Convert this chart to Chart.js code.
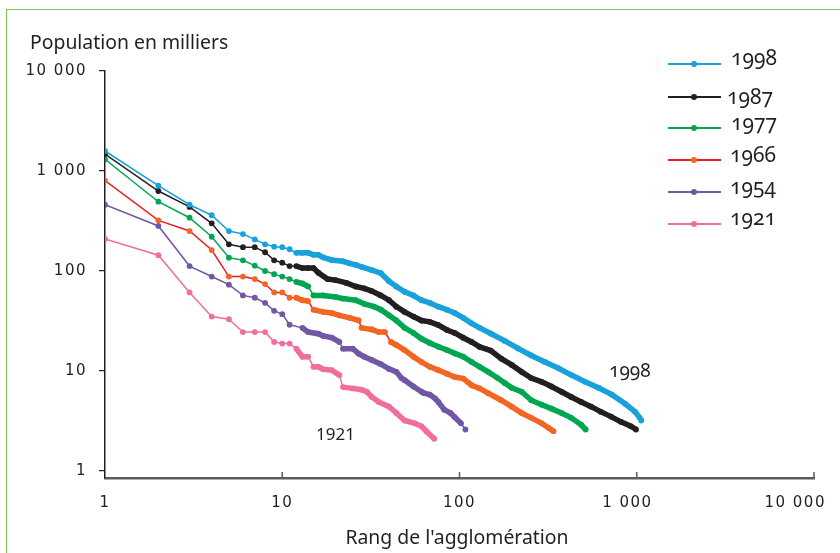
<!DOCTYPE html>
<html lang="fr">
<head>
<meta charset="utf-8">
<title>Population des agglomérations selon leur rang</title>
<script src="https://cdn.jsdelivr.net/npm/chart.js@4.4.1/dist/chart.umd.min.js"></script>
<style>
  html, body { margin: 0; padding: 0; background: #fff; }
  #wrap {
    position: relative; width: 840px; height: 553px; overflow: hidden;
    font-family: 'Noto Sans', sans-serif; color: #231f20;
  }
  #frame {
    position: absolute; left: 6px; top: 9px; right: -20px; bottom: -20px;
    border-top: 1.5px solid #7dc452; border-left: 1.5px solid #7dc452;
  }
  canvas { position: absolute; left: 0; top: 0; }
  .txt { position: absolute; white-space: nowrap; line-height: 1; }
  .old { font-variant-numeric: oldstyle-nums; }
  .leg-line { position: absolute; height: 2px; }
  .leg-dot  { position: absolute; width: 6px; height: 6px; border-radius: 50%; }
</style>
</head>
<body>
<div id="wrap">
  <div id="frame"></div>
  <canvas id="chart" width="840" height="553"></canvas>
  <div class="txt" style="left:30px; top:32px; font-size:19.4px;">Population en milliers</div>
  <div class="txt" style="left:457px; top:526.5px; font-size:19.4px; transform:translateX(-50%);">Rang de l'agglomération</div>
  <div class="txt old" style="left:609px; top:361px; font-size:19px;">1998</div>
  <div class="txt" style="left:316px; top:425px; font-size:17px;">1921</div>
  <div id="legend"></div>
</div>

<script>
// ── DATA ──────────────────────────────────────────────────────────────
// rank of the agglomeration (x) and population in thousands (y), per census year
const years = ['1998', '1987', '1977', '1966', '1954', '1921'];

const rank1998 = [1,2,3,4,5,6,7,8,9,10,11,12,13,14,15,16,17,19,22,24,26,28,32,36,40,44,49,55,61,68,76,85,94,105,117,130,150,180,214,254,303,360,428,511,608,724,860,980,1040,1060];
const pop1998  = [1585,713,460,361,251,234,207,185,175,173,165,152,152,152,145,145,137,129,125,119,115,110,102,95,79,70,62,57,51,48,44,41,38,34,30,27,23.7,20,16.8,14.3,12.3,10.7,9.1,7.8,6.8,5.8,4.7,3.9,3.4,3.2];

const rank1987 = [1,2,3,4,5,6,7,8,9,10,11,12,13,14,15,16,18,20,23,26,29,32,36,40,44,49,55,61,68,76,85,94,105,117,130,150,172,197,224,254,291,330,376,427,486,553,629,716,814,927,990];
const pop1987  = [1479,631,437,300,185,173,173,154,128,121,112,112,107,107,107,96,83,81,76,70,67,63,57,51,44,39,35,32,31,28.8,25.7,24,21.5,19.5,17.4,16,13.3,11.5,9.8,8.5,7.8,7.0,6.2,5.5,4.9,4.4,3.9,3.5,3.1,2.8,2.6];

const rank1977 = [1,2,3,4,5,6,7,8,9,10,11,12,13,14,15,17,20,22,26,29,33,36,40,44,49,55,61,68,76,85,94,105,117,130,145,164,180,197,224,254,291,330,376,427,486,515];
const pop1977  = [1309,493,341,220,136,128,113,100,93,88,83,78,75,70,57,57,55,53,51,47,44,41,36,32,27,24,21,19.1,17.5,16.2,15,13.9,12.3,11,9.8,8.5,7.6,6.8,6.2,5.1,4.6,4.2,3.8,3.4,2.9,2.6];

const rank1966 = [1,2,3,4,5,6,7,8,9,10,11,12,13,14,15,17,19,21,24,27,28,32,35,38,41,44,49,55,61,68,76,85,94,105,117,130,145,172,197,224,254,291,318,339];
const pop1966  = [800,321,251,162,88,88,83,74,61,61,54,54,51,50,41,39,38,36,34,32,27,26,24.5,24.5,19.5,18.2,16.2,13.9,12.3,11,10.2,9.4,8.7,8.4,7.2,6.7,6.0,5.1,4.4,3.8,3.4,3.0,2.7,2.5];

const rank1954 = [1,2,3,4,5,6,7,8,9,10,11,13,14,16,17,19,21,22,25,27,29,32,36,40,44,47,49,55,61,63,68,73,76,82,89,94,102,108];
const pop1954  = [460,282,112,88,73,57,54,48,40,37,29,27,24.5,23.6,22.4,21.6,19.5,16.7,16.7,14.9,13.9,12.9,11.7,10.5,9.8,8.5,8.1,7.0,6.2,6.0,5.8,5.3,4.9,4.1,3.8,3.45,3.0,2.6];

const rank1921 = [1,2,3,4,5,6,7,8,9,10,11,12,13,14,15,16,17,19,21,22,25,28,30,32,35,40,44,49,56,61,65,72];
const pop1921  = [209,144,61,35,33,24.5,24.5,24.5,19.5,18.8,18.8,16.7,13.9,13.9,11,11,10.4,10.2,9.1,6.9,6.7,6.5,6.2,5.5,4.9,4.4,3.8,3.2,3.0,2.8,2.5,2.1];

const xTicks = [1, 10, 100, 1000, 10000];
const yTicks = [1, 10, 100, 1000, 10000];

// ── STYLE ─────────────────────────────────────────────────────────────
const ranks     = [rank1998, rank1987, rank1977, rank1966, rank1954, rank1921];
const pops      = [pop1998, pop1987, pop1977, pop1966, pop1954, pop1921];
const lineColor = ['#19a1dc', '#231f20', '#00a651', '#ed1c24', '#7157a5', '#f06e9c'];
const dotColor  = ['#19a1dc', '#231f20', '#00a651', '#f26522', '#7157a5', '#f06e9c'];

// legend placement (pixels) – line y and text baseline for each year
const legLineY  = [64, 97, 128, 160, 192, 224];
const legBase   = [66, 105, 131, 163, 195, 226];
const legTextX  = [731, 727, 731, 730, 730, 730];

// "1 000", "10 000"
function fmt(n) {
  return String(n).replace(/\B(?=(\d{3})+(?!\d))/g, ' ');
}

// x labels of the big ranks sit a little left of their tick in the original,
// trailing no-break spaces shift the centred text
function fmtX(n) {
  const pad = n >= 10000 ? 6 : n >= 1000 ? 3 : 0;
  return fmt(n) + '\u00a0'.repeat(pad);
}

// ── LEGEND (html) ─────────────────────────────────────────────────────
const legEl = document.getElementById('legend');
years.forEach((y, i) => {
  legEl.insertAdjacentHTML('beforeend', `
    <div class="leg-line" style="left:668px; width:53px; top:${legLineY[i] - 1}px; background:${lineColor[i]}"></div>
    <div class="leg-dot" style="left:691px; top:${legLineY[i] - 3}px; background:${dotColor[i]}"></div>
    <div class="txt old" style="left:${legTextX[i]}px; top:${legBase[i] - 18.6}px; font-size:21px;">${y}</div>`);
});

// ── PLUGIN: wide tick font + upward ticks on the x axis ──────────────
const axisMarks = {
  id: 'axisMarks',
  beforeDraw(chart) { chart.ctx.letterSpacing = '1.5px'; },
  afterDraw(chart) {
    const { ctx, chartArea, scales } = chart;
    ctx.letterSpacing = '0px';
    ctx.save();
    ctx.strokeStyle = '#5b5b5b';
    ctx.lineWidth = 1.5;
    xTicks.slice(1).forEach(v => {
      const px = scales.x.getPixelForValue(v);
      ctx.beginPath();
      ctx.moveTo(px, chartArea.bottom);
      ctx.lineTo(px, chartArea.bottom - 6);
      ctx.stroke();
    });
    ctx.restore();
  }
};

// segments in the dense part of each curve look like a chain of dots
function segWidth(ctx) {
  const ds = ctx.chart.data.datasets[ctx.datasetIndex];
  const r  = ds.data[ctx.p0DataIndex].x;
  const dx = Math.abs(ctx.p1.x - ctx.p0.x);
  const dy = Math.abs(ctx.p1.y - ctx.p0.y);
  return (r >= 12 && dy < 1.4 * dx) ? 5.5 : 1.5;
}
function segColor(ctx) {
  const i = ctx.datasetIndex;
  return segWidth(ctx) > 2 ? dotColor[i] : lineColor[i];
}

const datasets = years.map((y, i) => ({
  label: y,
  data: ranks[i].map((r, k) => ({ x: r, y: pops[i][k] })),
  borderColor: lineColor[i],
  backgroundColor: dotColor[i],
  pointBackgroundColor: dotColor[i],
  pointBorderWidth: 0,
  pointRadius: 2.9,
  borderWidth: 1.5,
  tension: 0,
  segment: { borderWidth: segWidth, borderColor: segColor },
}));

const tickFont = { family: 'DejaVu Sans', size: 15 };

new Chart(document.getElementById('chart'), {
  type: 'line',
  data: { datasets },
  options: {
    responsive: false,
    animation: false,
    events: [],
    layout: { padding: { top: 71, right: 26, bottom: 0, left: 0 } },
    plugins: { legend: { display: false }, tooltip: { enabled: false } },
    scales: {
      x: {
        type: 'logarithmic',
        min: 1, max: 10000,
        afterBuildTicks: s => { s.ticks = xTicks.map(v => ({ value: v })); },
        afterFit: s => { s.height = 75; s.paddingLeft = 0; s.paddingRight = 0; },
        ticks: { callback: v => fmtX(v), font: tickFont, color: '#231f20', padding: 16, maxRotation: 0, autoSkip: false },
        grid: { drawOnChartArea: false, drawTicks: false },
        border: { color: '#5b5b5b', width: 2.5 },
      },
      y: {
        type: 'logarithmic',
        min: 0.851, max: 10000,
        afterBuildTicks: s => { s.ticks = yTicks.map(v => ({ value: v })); },
        afterFit: s => { s.width = 105; s.paddingTop = 0; s.paddingBottom = 0; },
        ticks: { callback: v => fmt(v), font: tickFont, color: '#231f20', padding: 12, autoSkip: false },
        grid: { drawOnChartArea: false, drawTicks: true, tickLength: 6, color: '#231f20', lineWidth: 1.2 },
        border: { color: '#231f20', width: 1.5 },
      }
    }
  },
  plugins: [axisMarks]
});
</script>
</body>
</html>
